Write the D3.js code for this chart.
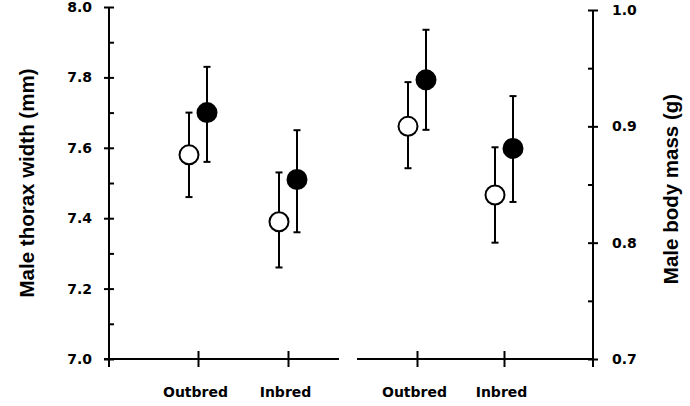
<!DOCTYPE html>
<html>
<head>
<meta charset="utf-8">
<script src="https://cdn.jsdelivr.net/npm/d3@7"></script>
<style>
  body { margin: 0; background: #fff; }
  .tick text { font-family: "DejaVu Sans", sans-serif; font-weight: bold; font-size: 14px; fill: #000; }
  .axisTitle { font-family: "Liberation Sans", Arial, sans-serif; font-weight: bold; font-size: 20.5px; fill: #000; }
</style>
</head>
<body>
<div class="chart"></div>
<script>
const svgWidth = 690;
const svgHeight = 406;

// categories and values
const groups = ['Outbred', 'Inbred'];

// thorax width (mm), left panel
const thoraxOpen = [7.58, 7.39];
const thoraxOpenLo = [7.46, 7.26];
const thoraxOpenHi = [7.70, 7.53];
const thoraxFilled = [7.70, 7.51];
const thoraxFilledLo = [7.56, 7.36];
const thoraxFilledHi = [7.83, 7.65];

// body mass (g), right panel
const massOpen = [0.900, 0.841];
const massOpenLo = [0.864, 0.800];
const massOpenHi = [0.938, 0.882];
const massFilled = [0.940, 0.881];
const massFilledLo = [0.897, 0.835];
const massFilledHi = [0.983, 0.926];

const leftTicks = [7.0, 7.2, 7.4, 7.6, 7.8, 8.0];
const leftMinor = [7.1, 7.3, 7.5, 7.7, 7.9];
const rightTicks = [0.7, 0.8, 0.9, 1.0];
const rightMinor = [0.75, 0.85, 0.95];

const svg = d3.select('.chart')
  .append('svg')
  .attr('width', svgWidth)
  .attr('height', svgHeight);

// scales
const yLeft = d3.scaleLinear().domain([7, 8]).range([359, 7]);
const yRight = d3.scaleLinear().domain([0.7, 1.0]).range([359, 10]);
const xLeft = d3.scalePoint().domain(groups).range([198, 288]);
const xRight = d3.scalePoint().domain(groups).range([417, 504]);

const base = yLeft(7);
const leftX = 109;
const rightX = 593;
const offset = 9;

// left y axis
const gl = svg.append('g').attr('transform', `translate(${leftX},0)`);
gl.call(d3.axisLeft(yLeft).tickValues(leftTicks).tickFormat(d3.format('.1f')).tickSize(5).tickPadding(12));
gl.append('g').call(d3.axisRight(yLeft).tickValues(leftTicks).tickFormat('').tickSize(5));
gl.append('g').call(d3.axisRight(yLeft).tickValues(leftMinor).tickFormat('').tickSize(5));

// right y axis
const gr = svg.append('g').attr('transform', `translate(${rightX},0)`);
gr.call(d3.axisRight(yRight).tickValues(rightTicks).tickFormat(d3.format('.1f')).tickSize(5).tickPadding(14));
gr.append('g').call(d3.axisLeft(yRight).tickValues(rightTicks).tickFormat('').tickSize(5));
gr.append('g').call(d3.axisLeft(yRight).tickValues(rightMinor).tickFormat('').tickSize(5));

svg.selectAll('.domain').remove();
svg.selectAll('.tick line').attr('stroke', '#000').attr('stroke-width', 2);

// vertical axis lines, running a little below the baseline
svg.append('line').attr('x1', leftX).attr('x2', leftX)
  .attr('y1', yLeft.range()[1]).attr('y2', base + 8)
  .attr('stroke', '#000').attr('stroke-width', 2);
svg.append('line').attr('x1', rightX).attr('x2', rightX)
  .attr('y1', yRight.range()[1]).attr('y2', base + 8)
  .attr('stroke', '#000').attr('stroke-width', 2);

// x axes
function xAxis(scale, x1, x2) {
  const g = svg.append('g').attr('transform', `translate(0,${base})`);
  g.call(d3.axisBottom(scale).tickSize(8).tickPadding(20));
  g.select('.domain').remove();
  g.selectAll('.tick line').attr('y1', -8).attr('y2', 8)
    .attr('stroke', '#000').attr('stroke-width', 2);
  g.append('line').attr('x1', x1).attr('x2', x2)
    .attr('stroke', '#000').attr('stroke-width', 2);
  g.selectAll('.tick text').attr('dy', '0.71em').attr('dx', -3);
}
xAxis(xLeft, 104, 339);
xAxis(xRight, 357, 593);

// error bars + points
function series(x, y, vals, lo, hi, dx, fill) {
  const g = svg.append('g');
  const rows = groups.map((k, i) => ({k: k, v: vals[i], lo: lo[i], hi: hi[i]}));
  const sel = g.selectAll('g.pt').data(rows).enter().append('g');
  sel.append('line')
    .attr('x1', d => x(d.k) + dx).attr('x2', d => x(d.k) + dx)
    .attr('y1', d => y(d.lo)).attr('y2', d => y(d.hi))
    .attr('stroke', '#000').attr('stroke-width', 2);
  ['lo', 'hi'].forEach(key => {
    sel.append('line')
      .attr('x1', d => x(d.k) + dx - 3.5).attr('x2', d => x(d.k) + dx + 3.5)
      .attr('y1', d => y(d[key])).attr('y2', d => y(d[key]))
      .attr('stroke', '#000').attr('stroke-width', 2);
  });
  sel.append('circle')
    .attr('cx', d => x(d.k) + dx).attr('cy', d => y(d.v))
    .attr('r', 9.5)
    .attr('fill', fill).attr('stroke', '#000').attr('stroke-width', 2);
}
series(xLeft, yLeft, thoraxOpen, thoraxOpenLo, thoraxOpenHi, -offset, '#fff');
series(xLeft, yLeft, thoraxFilled, thoraxFilledLo, thoraxFilledHi, offset, '#000');
series(xRight, yRight, massOpen, massOpenLo, massOpenHi, -offset, '#fff');
series(xRight, yRight, massFilled, massFilledLo, massFilledHi, offset, '#000');

// axis titles
svg.append('text')
  .attr('class', 'axisTitle')
  .attr('transform', 'translate(34,183) rotate(-90)')
  .attr('text-anchor', 'middle')
  .text('Male thorax width (mm)');

svg.append('text')
  .attr('class', 'axisTitle')
  .attr('transform', 'translate(678,189) rotate(-90)')
  .attr('text-anchor', 'middle')
  .text('Male body mass (g)');
</script>
</body>
</html>
